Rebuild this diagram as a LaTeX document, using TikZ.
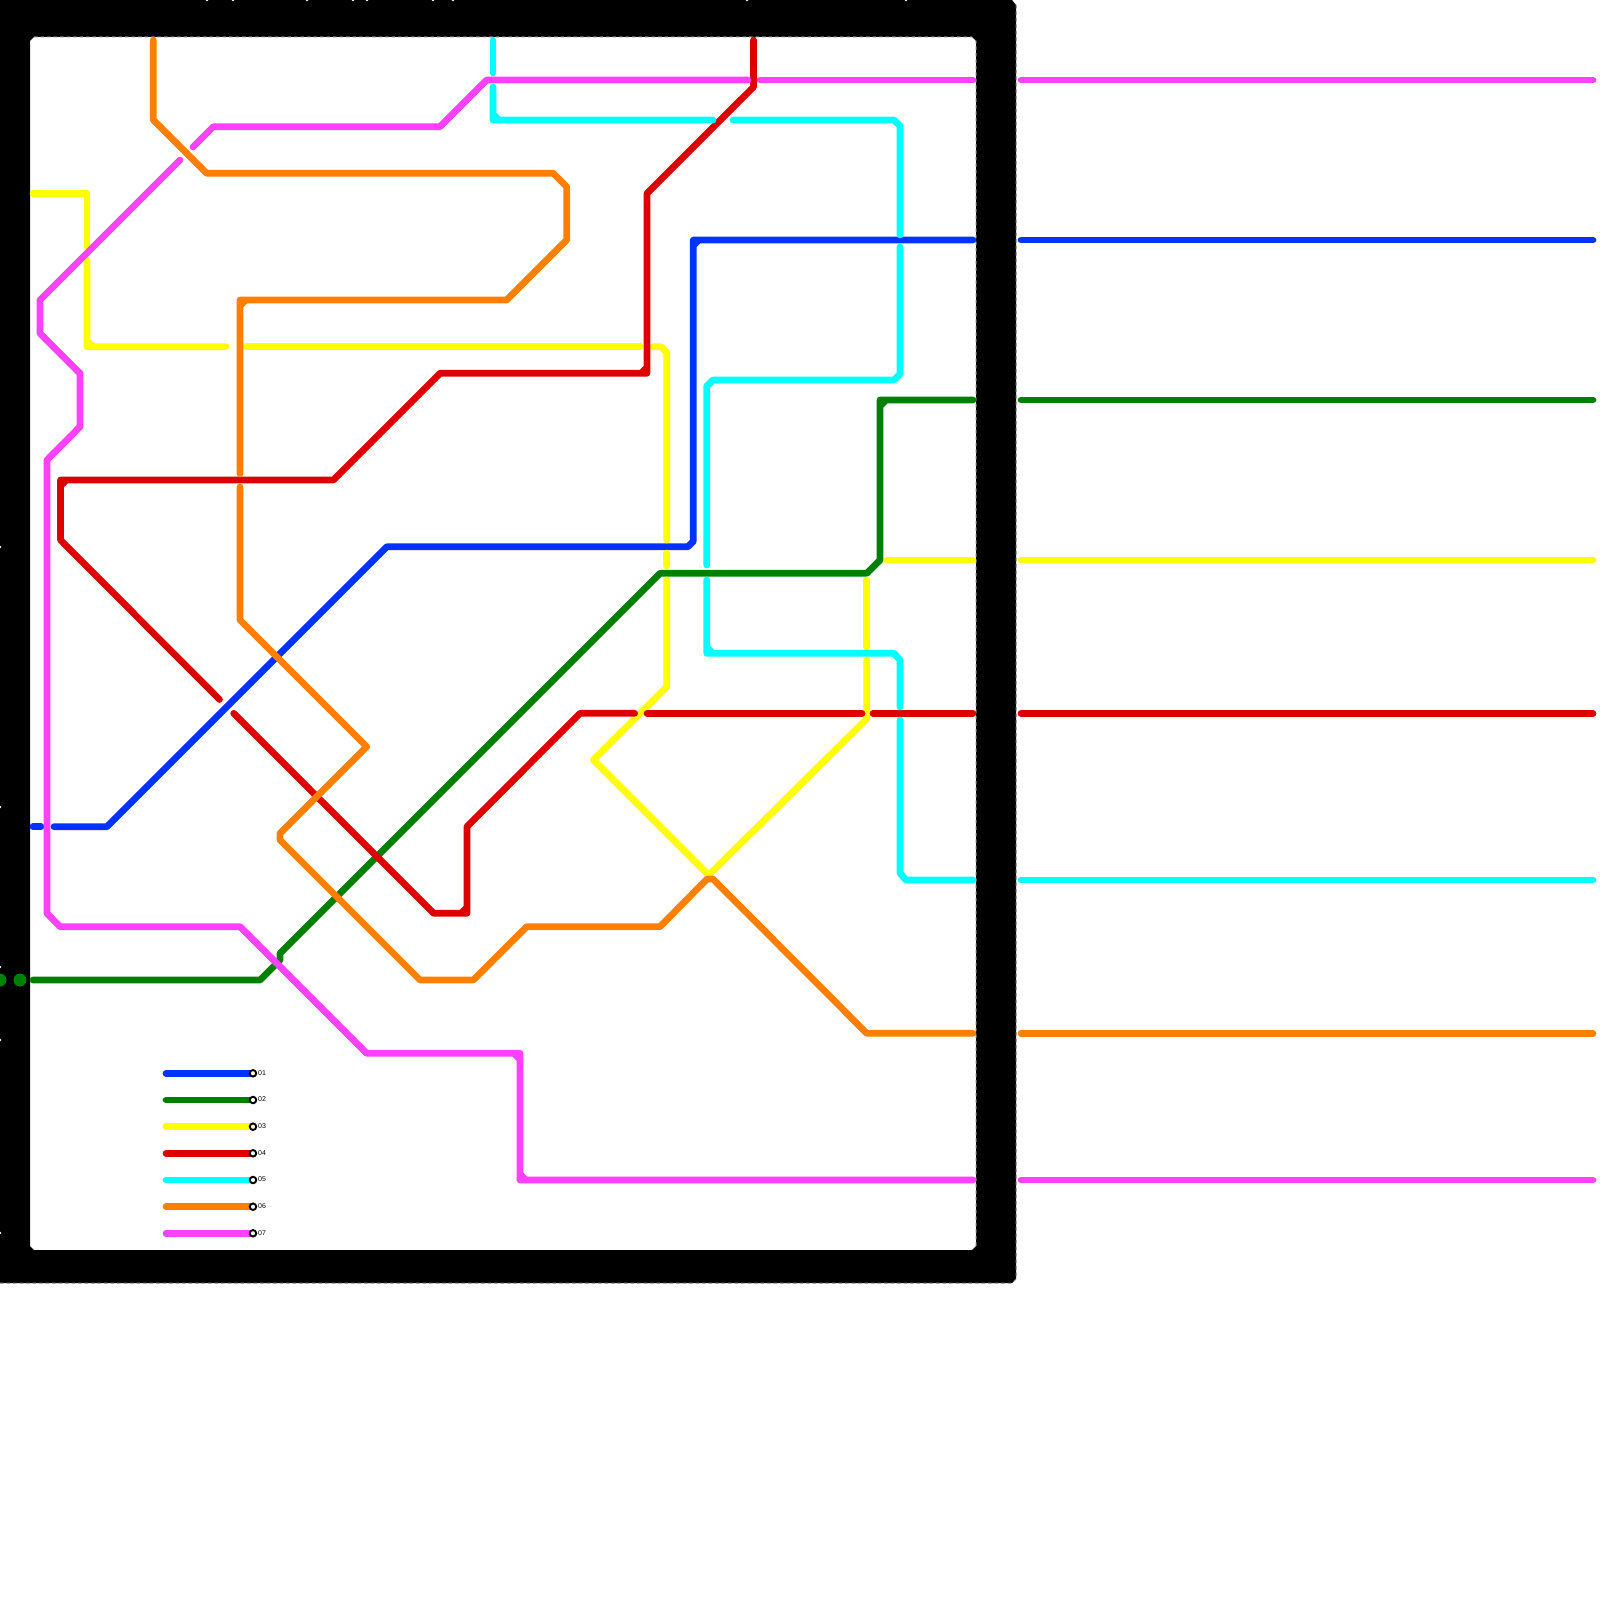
\documentclass[tikz,border=0pt]{standalone}
\usepackage{fontspec}
\setmainfont{Liberation Sans}
\definecolor{cblue}{RGB}{0,51,255}
\definecolor{cgreen}{RGB}{0,128,0}
\definecolor{cyellow}{RGB}{255,255,0}
\definecolor{cred}{RGB}{221,0,0}
\definecolor{ccyan}{RGB}{0,255,255}
\definecolor{corange}{RGB}{255,128,0}
\definecolor{cmagenta}{RGB}{255,64,255}
\tikzset{
  route/.style={line width=6.7pt,line cap=round,line join=round},
  r1/.style={route,draw=cblue},
  r2/.style={route,draw=cgreen},
  r3/.style={route,draw=cyellow},
  r4/.style={route,draw=cred},
  r5/.style={route,draw=ccyan},
  r6/.style={route,draw=corange},
  r7/.style={route,draw=cmagenta},
  framedash/.style={draw=gray,line width=1pt,dash pattern=on 3.5pt off 3pt},
  legdot/.style={circle,draw=black,fill=white,line width=1.9pt,minimum size=6.5pt,inner sep=0pt},
  leglab/.style={anchor=west,inner sep=0pt,font=\fontsize{7}{8}\selectfont},
  tick/.style={fill=white,draw=none},
  gdot/.style={fill=cgreen,draw=none}
}
\begin{document}
\begin{tikzpicture}[x=1pt,y=-1pt]
\useasboundingbox (0,0) rectangle (1600,1600);
\fill[white] (0,0) rectangle (1600,1600);
% frame
\fill[black,even odd rule]
  (0,0) -- (1012,0) -- (1016,5) -- (1016,1279) -- (1012,1283) -- (0,1283) -- cycle
  (34,37) -- (972,37) -- (976,41) -- (976,1246) -- (972,1250) -- (34,1250) -- (30,1246) -- (30,41) -- cycle;
\draw[framedash] (34,37) -- (972,37) -- (976,41) -- (976,1246);
\draw[framedash] (1016,5) -- (1016,1279) -- (1012,1283) -- (0,1283);
\foreach \x in {207,233,307,353,367,433,453,747,906} \fill[tick] (\x,0) circle (1.4);
\foreach \y in {547,807,967,1040,1233} \fill[tick] (0,\y) circle (1.4);
\fill[gdot] (0,980) circle (6.5);
\fill[gdot] (20,980) circle (6.5);
% 01 blue
\draw[r1] (33,826.7) -- (41,826.7);
\draw[r1] (54,826.7) -- (107,826.7) -- (387,546.7) -- (688,546.7) -- (693.3,541.3) -- (693.3,240) -- (699,240) -- (693.3,245.7) -- (693.3,240) -- (973,240);
\draw[r1] (1021,240) -- (1593,240);
% 02 green
\draw[r2] (33,980) -- (260,980) -- (280,960) -- (280,953.3) -- (660,573.3) -- (866.7,573.3) -- (880,560) -- (880,400) -- (886,400) -- (880,406) -- (880,400) -- (973,400);
\draw[r2] (1021,400) -- (1593,400);
% 03 yellow
\draw[r3] (33,193.3) -- (87,193.3) -- (87,247);
\draw[r3] (87,260) -- (87,346.7) -- (93,346.7) -- (87,340.7) -- (87,346.7) -- (226,346.7);
\draw[r3] (246,346.7) -- (640,346.7);
\draw[r3] (653,346.7) -- (661,346.7) -- (666.7,352.4) -- (666.7,540);
\draw[r3] (666.7,553) -- (666.7,566);
\draw[r3] (666.7,580) -- (666.7,687) -- (593.3,760) -- (707,873.7) -- (710,873.7) -- (866.7,719) -- (866.7,660);
\draw[r3] (866.7,647) -- (866.7,580);
\draw[r3] (887,560) -- (973,560);
\draw[r3] (1021,560) -- (1593,560);
% 04 red
\draw[r4] (753.5,40) -- (753.5,87) -- (647,193.3) -- (647,373.3) -- (641,373.3) -- (647,367.3) -- (647,373.3) -- (440,373.3) -- (333.3,480) -- (60.5,480) -- (60.5,486) -- (66.5,480) -- (60.5,480) -- (60.5,540) -- (219.5,699.5);
\draw[r4] (233.7,713.3) -- (433.7,913.3) -- (467,913.3) -- (461,913.3) -- (467,907.3) -- (467,913.3) -- (467,826.7) -- (580,713.3) -- (634.7,713.3);
\draw[r4] (647,713.3) -- (862,713.3);
\draw[r4] (873,713.3) -- (973,713.3);
\draw[r4] (1021,713.3) -- (1593,713.3);
% 05 cyan
\draw[r5] (493,40) -- (493,73);
\draw[r5] (493,87) -- (493,120) -- (499,120) -- (493,114) -- (493,120) -- (713,120);
\draw[r5] (733,120) -- (894,120) -- (900,126) -- (900,235);
\draw[r5] (900,247) -- (900,374) -- (894,380) -- (713,380) -- (706.7,386) -- (706.7,565);
\draw[r5] (706.7,580) -- (706.7,653.3) -- (713,653.3) -- (706.7,647) -- (706.7,653.3) -- (894,653.3) -- (900,660) -- (900,707);
\draw[r5] (900,720) -- (900,873) -- (906,880) -- (973,880);
\draw[r5] (1021,880) -- (1593,880);
% 06 orange
\draw[r6] (153.3,40) -- (153.3,120) -- (206.7,173.3) -- (553.3,173.3) -- (566.7,186.7) -- (566.7,240) -- (506.7,300) -- (240,300) -- (246,300) -- (240,306) -- (240,300) -- (240,474);
\draw[r6] (240,487) -- (240,620) -- (366.7,746.7) -- (280,833.3) -- (280,840) -- (420,980) -- (473.3,980) -- (526.7,926.7) -- (660,926.7) -- (707,879) -- (713,879) -- (866.7,1033.3) -- (973,1033.3);
\draw[r6] (1021,1033.3) -- (1593,1033.3);
% 07 magenta
\draw[r7] (193,147) -- (213.3,126.7) -- (440,126.7) -- (486.7,80) -- (748,80);
\draw[r7] (760,80) -- (973,80);
\draw[r7] (1021,80) -- (1593,80);
\draw[r7] (180,160) -- (40,300) -- (40,333.3) -- (80,373.3) -- (80,426.7) -- (47,460) -- (47,913.3) -- (60,926.7) -- (240,926.7) -- (366.7,1053.3) -- (520,1053.3) -- (514,1053.3) -- (520,1059.3) -- (520,1053.3) -- (520,1180) -- (526,1180) -- (520,1174) -- (520,1180) -- (973,1180);
\draw[r7] (1021,1180) -- (1593,1180);
% legend
\coordinate (ls1) at (166,1073.3); \coordinate (le1) at (253,1073.3);
\coordinate (ls2) at (166,1100);   \coordinate (le2) at (253,1100);
\coordinate (ls3) at (166,1126.7); \coordinate (le3) at (253,1126.7);
\coordinate (ls4) at (166,1153.3); \coordinate (le4) at (253,1153.3);
\coordinate (ls5) at (166,1180);   \coordinate (le5) at (253,1180);
\coordinate (ls6) at (166,1206.7); \coordinate (le6) at (253,1206.7);
\coordinate (ls7) at (166,1233.3); \coordinate (le7) at (253,1233.3);
\draw[r1] (ls1) -- (le1);
\draw[r2] (ls2) -- (le2);
\draw[r3] (ls3) -- (le3);
\draw[r4] (ls4) -- (le4);
\draw[r5] (ls5) -- (le5);
\draw[r6] (ls6) -- (le6);
\draw[r7] (ls7) -- (le7);
\node[legdot] (ld1) at (le1) {}; \node[leglab] (lt1) at (258,1072.8) {01};
\node[legdot] (ld2) at (le2) {}; \node[leglab] (lt2) at (258,1099.5) {02};
\node[legdot] (ld3) at (le3) {}; \node[leglab] (lt3) at (258,1126.2) {03};
\node[legdot] (ld4) at (le4) {}; \node[leglab] (lt4) at (258,1152.8) {04};
\node[legdot] (ld5) at (le5) {}; \node[leglab] (lt5) at (258,1179.5) {05};
\node[legdot] (ld6) at (le6) {}; \node[leglab] (lt6) at (258,1206.2) {06};
\node[legdot] (ld7) at (le7) {}; \node[leglab] (lt7) at (258,1232.8) {07};
\end{tikzpicture}
\end{document}
